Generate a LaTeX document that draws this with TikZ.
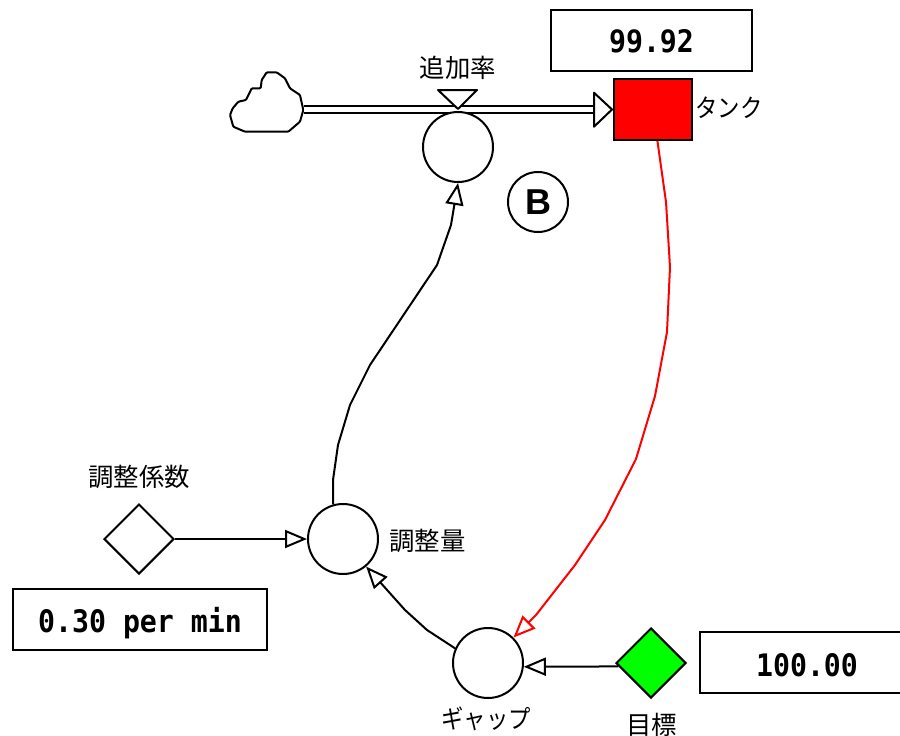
\documentclass[tikz,border=0pt]{standalone}
\usepackage{fontspec}
\usetikzlibrary{arrows.meta,shapes.geometric}
\newfontfamily\jpfont{Noto Sans CJK JP}
\newfontfamily\valfont{DejaVu Sans Mono}
\newfontfamily\loopfont{Liberation Sans}
\newcommand{\valtxt}[2]{\raisebox{#1}[0pt][0pt]{\scalebox{0.91}[1]{\valfont\bfseries\fontsize{31}{33}\selectfont #2}}}
\newcommand{\kanatxt}[1]{\scalebox{0.88}[1]{#1}}
\tikzset{
  auxc/.style={circle,draw=black,fill=white,minimum size=70pt,inner sep=0pt,line width=2pt},
  dia/.style={diamond,aspect=1,draw=black,minimum width=70pt,minimum height=70pt,inner sep=0pt,line width=2pt},
  valbox/.style={rectangle,draw=black,fill=white,inner sep=0pt,line width=2pt},
  lab/.style={font=\jpfont\fontsize{25.4}{27}\selectfont,inner sep=0pt},
  link/.style={draw=black,line width=2pt,-{Triangle[open,fill=white,length=22pt,width=18pt,line width=2pt]}},
  redlink/.style={link,draw=red},
  pipe/.style={draw=black,double=white,double distance=4.4pt,line width=2pt},
  shapeline/.style={draw=black,fill=white,line width=2pt,line join=round}
}
\begin{document}
\begin{tikzpicture}[x=1pt,y=-1pt]
\useasboundingbox (0,0) rectangle (900,736);
\clip (0,0) rectangle (900,736);
% cloud
\draw[shapeline,rounded corners=1pt] (230,115)--(233.3,126.7)--(245,131.7)--(288.3,131.7)--(300,121.7)--(303.3,110)--(300,95)--(290,88.3)--(285,78.3)--(276.7,72.3)--(266.7,72.3)--(261.7,80)--(260.7,88.3)--(251.7,88.3)--(246,100)--(238.3,101.7)--(232.7,108.3)--cycle;
\node[inner sep=0pt,minimum width=73pt,minimum height=60pt] (cloud) at (267,102) {};
% nodes
\node[rectangle,draw=black,fill=red,minimum width=78pt,minimum height=61pt,inner sep=0pt,line width=2pt] (stock) at (653,109.5) {};
\draw[pipe] (cloud.east |- stock.west) -- ([xshift=-18pt]stock.west);
\node[auxc] (rate) at (458,147) {};
\node[auxc] (adj) at (343,539) {};
\node[auxc] (gap) at (488,663) {};
\node[auxc] (loop) at (538,202) [minimum size=60pt] {\loopfont\bfseries\fontsize{36}{38}\selectfont B};
\node[dia] (coef) at (139,539) {};
\node[dia,fill=green] (target) at (651,663) {};
% flow tip and valve
\draw[shapeline] (594,92.7)--(612,109.5)--(594,126.7)--cycle;
\draw[shapeline] (438,90)--(477,90)--(458,109)--cycle;
% value boxes
\node[valbox,minimum width=201pt,minimum height=61pt] (v1) at (651.5,40.5) {\valtxt{-12.3pt}{99.92}};
\node[valbox,minimum width=254pt,minimum height=61pt] (v2) at (140,619.5) {\valtxt{-12.8pt}{0.30 per min}};
\node[valbox,minimum width=214pt,minimum height=61pt] (v3) at (807,662.5) {\valtxt{-14.3pt}{100.00}};
% labels
\node[lab] (l1) at (458,68) {追加率};
\node[lab] (l2) at (729,108) {\kanatxt{タンク}};
\node[lab] (l3) at (139,477) {調整係数};
\node[lab] (l4) at (427.5,541) {調整量};
\node[lab] (l5) at (486,719) {\kanatxt{ギャップ}};
\node[lab] (l6) at (651.5,725) {目標};
% connectors
\draw[link] (adj.106)--(333,480)--(338,445)--(350,405)--(370,365)--(437,265)--(451,225)--(rate.south);
\draw[redlink] (stock.-82.5)--(666,202)--(670,267)--(667,332)--(655,396)--(636,459)--(605,520)--(575,565)--(536,615)--(gap.45);
\draw[link] (coef.east)--(adj.west);
\draw[link] (gap.156)--(427,630)--(405,610)--(adj.-50);
\draw[link] (target.186.5)--(gap.-6.5);
\end{tikzpicture}
\end{document}
